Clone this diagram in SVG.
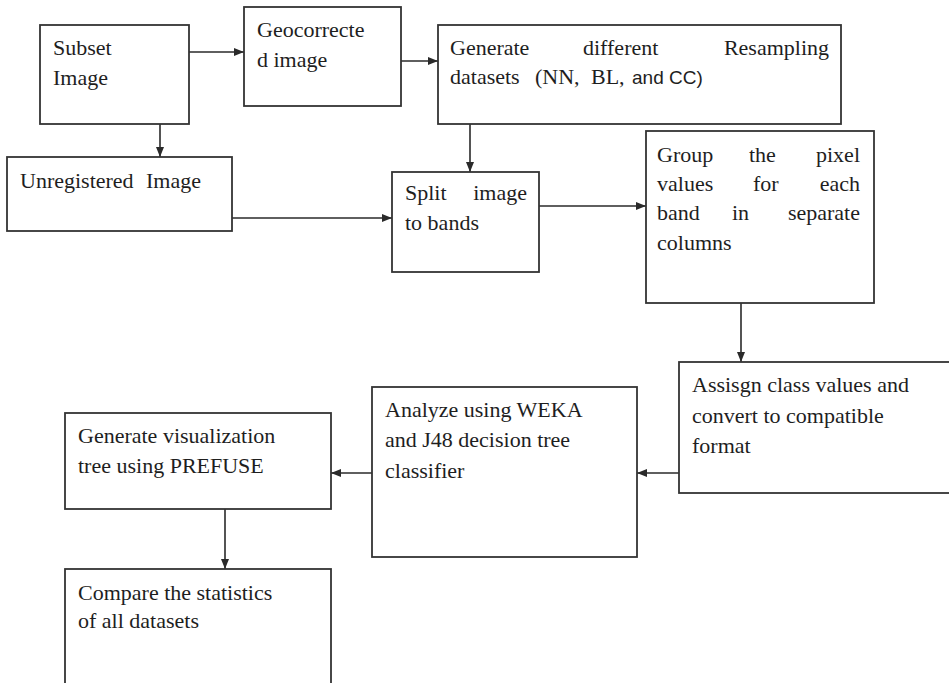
<svg xmlns="http://www.w3.org/2000/svg" width="949" height="683" viewBox="0 0 949 683">
<defs>
<marker id="ah" markerUnits="userSpaceOnUse" markerWidth="10" markerHeight="10" viewBox="0 0 10 10" refX="10" refY="5" orient="auto">
<path d="M0,1 L10,5 L0,9 Z" fill="#2a2a2a"/>
</marker>
<style>
rect.box{fill:#fff;stroke:#333;stroke-width:1.8}
text{font-family:"Liberation Serif","Times New Roman",serif;font-size:22px;fill:#1e1e1e}
.sans{font-family:"Liberation Sans",Arial,sans-serif;font-size:19px}
.conn line{stroke:#2a2a2a;stroke-width:1.6;marker-end:url(#ah)}
</style>
</defs>
<rect width="949" height="683" fill="#fff"/>
<g class="conn" id="connectors">
<line x1="189" y1="52" x2="244" y2="52"/>
<line x1="401" y1="61" x2="438" y2="61"/>
<line x1="160" y1="124" x2="160" y2="157"/>
<line x1="232" y1="218" x2="392" y2="218"/>
<line x1="470" y1="124" x2="470" y2="172"/>
<line x1="539" y1="206" x2="646" y2="206"/>
<line x1="741" y1="303" x2="741" y2="362"/>
<line x1="679" y1="473" x2="637" y2="473"/>
<line x1="372" y1="473" x2="331" y2="473"/>
<line x1="225" y1="509" x2="225" y2="569"/>
</g>
<g id="subset">
<rect class="box" x="40" y="25" width="149" height="99"/>
<text x="53" y="55">Subset</text>
<text x="53" y="85">Image</text>
</g>
<g id="geocorrected">
<rect class="box" x="244" y="7" width="157" height="99"/>
<text x="257" y="37">Geocorrecte</text>
<text x="257" y="67">d image</text>
</g>
<g id="generate">
<rect class="box" x="438" y="25" width="403" height="99"/>
<text x="450" y="55">Generate</text>
<text x="583" y="55">different</text>
<text x="829" y="55" text-anchor="end">Resampling</text>
<text y="84"><tspan x="450">datasets</tspan><tspan x="535">(NN,</tspan><tspan x="591">BL,</tspan><tspan class="sans" x="632">and CC)</tspan></text>
</g>
<g id="unregistered">
<rect class="box" x="7" y="157" width="225" height="74"/>
<text x="20" y="188">Unregistered</text>
<text x="146" y="188">Image</text>
</g>
<g id="split">
<rect class="box" x="392" y="172" width="147" height="100"/>
<text x="405" y="200">Split</text>
<text x="527" y="200" text-anchor="end">image</text>
<text x="405" y="230">to bands</text>
</g>
<g id="group">
<rect class="box" x="646" y="131" width="228" height="172"/>
<text x="657" y="162">Group</text>
<text x="749" y="162">the</text>
<text x="860" y="162" text-anchor="end">pixel</text>
<text x="657" y="191">values</text>
<text x="753" y="191">for</text>
<text x="860" y="191" text-anchor="end">each</text>
<text x="657" y="220">band</text>
<text x="732" y="220">in</text>
<text x="860" y="220" text-anchor="end">separate</text>
<text x="657" y="250">columns</text>
</g>
<g id="assign">
<rect class="box" x="679" y="362" width="272" height="131"/>
<text x="692" y="392">Assisgn class values and</text>
<text x="692" y="423">convert to compatible</text>
<text x="692" y="453">format</text>
</g>
<g id="analyze">
<rect class="box" x="372" y="387" width="265" height="170"/>
<text x="385" y="417">Analyze using WEKA</text>
<text x="385" y="447">and J48 decision tree</text>
<text x="385" y="478">classifier</text>
</g>
<g id="prefuse">
<rect class="box" x="65" y="413" width="266" height="96"/>
<text x="78" y="443">Generate visualization</text>
<text x="78" y="473">tree using PREFUSE</text>
</g>
<g id="compare">
<rect class="box" x="65" y="569" width="266" height="130"/>
<text x="78" y="600">Compare the statistics</text>
<text x="78" y="628">of all datasets</text>
</g>
</svg>
